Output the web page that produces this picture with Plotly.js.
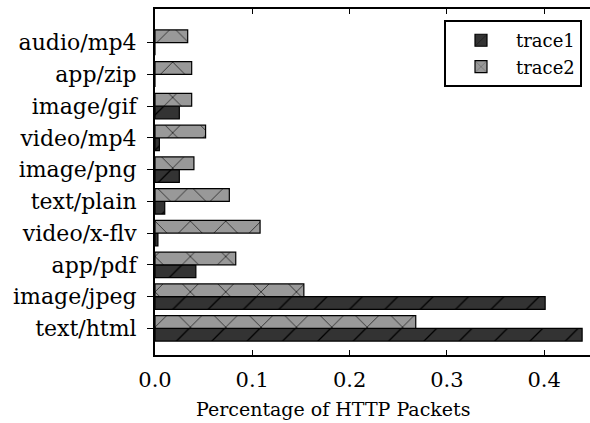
<!DOCTYPE html>
<html>
<head>
<meta charset="utf-8">
<script src="https://cdn.plot.ly/plotly-3.0.1.min.js"></script>
<style>
  html, body { margin: 0; padding: 0; background: #fff; }
  #chart { width: 590px; height: 423px; }
</style>
</head>
<body>
<div id="chart"></div>
<script>
// MIME types, listed from the bottom row to the top row
const categories = ['text/html', 'image/jpeg', 'app/pdf', 'video/x-flv', 'text/plain',
                    'image/png', 'video/mp4', 'image/gif', 'app/zip', 'audio/mp4'];
const trace1Values = [0.439, 0.401, 0.042, 0.003, 0.010, 0.025, 0.0045, 0.025, 0, 0];
const trace2Values = [0.268, 0.153, 0.083, 0.108, 0.0764, 0.040, 0.052, 0.0377, 0.0377, 0.0336];
const xTickValues = [0, 0.1, 0.2, 0.3, 0.4];
const xTickLabels = ['0.0', '0.1', '0.2', '0.3', '0.4'];

const FONT = 'DejaVu Serif, serif';

function hatchedBar(name, values, fill, shape) {
  return {
    type: 'bar',
    orientation: 'h',
    name: name,
    x: values,
    y: categories,
    marker: {
      color: fill,
      line: { color: '#000', width: 1.2 },
      pattern: { shape: shape, size: 25, solidity: 0.05, fgcolor: '#000', bgcolor: fill, fillmode: 'replace' }
    },
    hoverinfo: 'x+y+name'
  };
}

const data = [
  hatchedBar('trace1', trace1Values, '#333333', '/'),
  hatchedBar('trace2', trace2Values, '#999999', 'x')
];

const layout = {
  width: 590,
  height: 423,
  margin: { l: 155, r: 0, t: 9, b: 68 },
  paper_bgcolor: '#fff',
  plot_bgcolor: '#fff',
  font: { family: FONT, size: 20, color: '#000' },
  barmode: 'group',
  bargap: 0.2,
  bargroupgap: 0,
  showlegend: true,
  legend: {
    x: 0.9816, xanchor: 'right',
    y: 0.968, yanchor: 'top',
    bgcolor: '#fff',
    bordercolor: '#000',
    borderwidth: 2,
    traceorder: 'normal',
    font: { family: FONT, size: 18, color: '#000' },
    itemwidth: 60,
    tracegroupgap: 0
  },
  xaxis: {
    range: [0, 0.4471],
    tickvals: xTickValues,
    ticktext: xTickLabels,
    ticks: 'inside',
    ticklen: 5,
    tickwidth: 1,
    tickcolor: '#000',
    showline: true,
    linecolor: '#000',
    linewidth: 2,
    mirror: 'ticks',
    showgrid: false,
    zeroline: false,
    tickfont: { family: FONT, size: 21 },
    ticklabelstandoff: 5,
    fixedrange: true
  },
  yaxis: {
    type: 'category',
    range: [-0.84, 10.06],
    ticks: 'outside',
    ticklen: 6,
    tickwidth: 1,
    tickcolor: '#000',
    showline: true,
    linecolor: '#000',
    linewidth: 2,
    showgrid: false,
    zeroline: false,
    tickfont: { family: FONT, size: 22 },
    ticklabelstandoff: 6,
    fixedrange: true
  },
  annotations: [{
    text: 'Percentage of HTTP Packets',
    xref: 'paper', yref: 'paper',
    x: 0.409, y: 0, xanchor: 'center', yanchor: 'top',
    yshift: -41,
    showarrow: false,
    font: { family: FONT, size: 19, color: '#000' }
  }]
};

Plotly.newPlot('chart', data, layout, { displayModeBar: false, staticPlot: true });
</script>
</body>
</html>
